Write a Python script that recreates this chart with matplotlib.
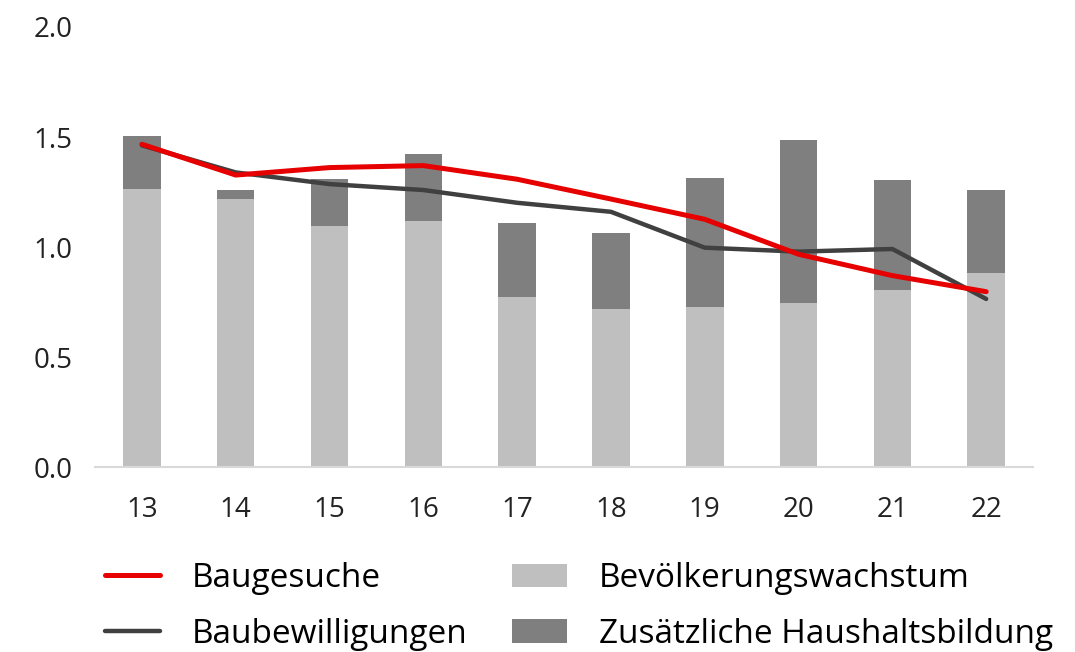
import numpy as np
import matplotlib.pyplot as plt

plt.rcParams['font.family'] = ['Open Sans', 'DejaVu Sans']

years = ["13", "14", "15", "16", "17", "18", "19", "20", "21", "22"]
bevoelkerung = [1.264, 1.217, 1.095, 1.120, 0.774, 0.717, 0.727, 0.744, 0.806, 0.882]
gesamt = [1.505, 1.258, 1.309, 1.421, 1.110, 1.064, 1.312, 1.485, 1.303, 1.258]
haushalt = [g - b for g, b in zip(gesamt, bevoelkerung)]
baugesuche = [1.467, 1.327, 1.361, 1.370, 1.308, 1.218, 1.126, 0.967, 0.870, 0.797]
baubewilligungen = [1.462, 1.339, 1.286, 1.259, 1.201, 1.160, 0.997, 0.979, 0.991, 0.764]

x = np.arange(len(years))

fig = plt.figure(figsize=(10.75, 6.52), dpi=100)
ax = fig.add_axes([0.0884, 0.2837, 0.8726, 0.6749])

b1 = ax.bar(x, bevoelkerung, width=0.4, color="#BFBFBF", label="Bevölkerungswachstum")
b2 = ax.bar(x, haushalt, width=0.4, bottom=bevoelkerung, color="#7F7F7F",
            label="Zusätzliche Haushaltsbildung")
l2, = ax.plot(x, baubewilligungen, color="#404040", lw=3.2, solid_capstyle="round",
              label="Baubewilligungen")
l1, = ax.plot(x, baugesuche, color="#E60000", lw=3.6, solid_capstyle="round",
              label="Baugesuche")

ax.set_xlim(-0.5, len(years) - 0.5)
ax.set_ylim(0, 2.0)
ax.set_yticks([0, 0.5, 1.0, 1.5, 2.0])
ax.set_yticklabels(["0.0", "0.5", "1.0", "1.5", "2.0"])
ax.set_xticks(x)
ax.set_xticklabels(years)
ax.tick_params(axis="both", length=0, labelsize=20, colors="#222222")
ax.tick_params(axis="x", pad=21)
ax.tick_params(axis="y", pad=16)
for s in ["top", "right", "left"]:
    ax.spines[s].set_visible(False)
ax.spines["bottom"].set_color("#D9D9D9")
ax.spines["bottom"].set_linewidth(1.5)

fig.legend([l1, l2, b1, b2],
           ["Baugesuche", "Baubewilligungen", "Bevölkerungswachstum", "Zusätzliche Haushaltsbildung"],
           loc="upper left", bbox_to_anchor=(0.0977, 0.138), ncol=2, frameon=False,
           fontsize=24, handlelength=1.65, handletextpad=0.95, columnspacing=1.35,
           labelspacing=0.68, borderaxespad=0, borderpad=0)

fig.savefig("out.png", dpi=100)
